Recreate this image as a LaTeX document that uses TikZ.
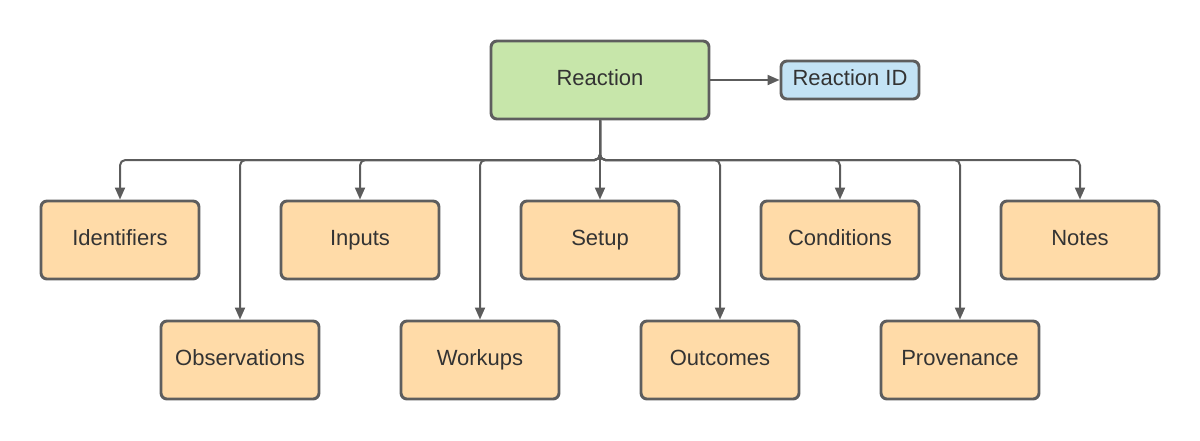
\documentclass[tikz,border=0pt]{standalone}
\usepackage{fontspec}
\setmainfont{Liberation Sans}
\usetikzlibrary{arrows.meta}
\definecolor{strk}{HTML}{5E5E5E}
\definecolor{lnk}{HTML}{5C5C5C}
\definecolor{gfill}{HTML}{C7E6AA}
\definecolor{ofill}{HTML}{FFDBA8}
\definecolor{bfill}{HTML}{C3E3F5}
\definecolor{txt}{HTML}{333333}
\begin{document}
\begin{tikzpicture}[x=0.75pt,y=-0.75pt,
  basebox/.style={draw=strk,line width=2.2pt,rounded corners=4.5pt,inner sep=0pt,
    font=\fontsize{16.5}{19}\selectfont,text=txt,text height=12pt,text depth=4.5pt},
  obox/.style={basebox,fill=ofill,minimum width=118.5pt,minimum height=58.5pt},
  link/.style={draw=lnk,line width=1.5pt,rounded corners=4pt,-{Triangle[length=9pt,width=7.5pt]}}]
\useasboundingbox (0,0) rectangle (1200,440);
\node[basebox,fill=gfill,minimum width=163.5pt,minimum height=58.5pt] (r) at (600,80) {Reaction};
\node[basebox,fill=bfill,minimum width=103.5pt,minimum height=28.5pt] (rid) at (850,80) {Reaction ID};
\node[obox] (ident) at (120,240) {Identifiers};
\node[obox] (inp) at (360,240) {Inputs};
\node[obox] (setup) at (600,240) {Setup};
\node[obox] (cond) at (840,240) {Conditions};
\node[obox] (notes) at (1080,240) {Notes};
\node[obox] (obs) at (240,360) {Observations};
\node[obox] (work) at (480,360) {Workups};
\node[obox] (outc) at (720,360) {Outcomes};
\node[obox] (prov) at (960,360) {Provenance};
\coordinate (j) at (600,160);
\draw[link] (r.east) -- (rid.west);
\draw[link] (r.south) -- (setup.north);
\foreach \b in {ident,inp,cond,notes,obs,work,outc,prov}{
  \draw[link] (r.south) -- (j) -| (\b.north);
}
\end{tikzpicture}
\end{document}
